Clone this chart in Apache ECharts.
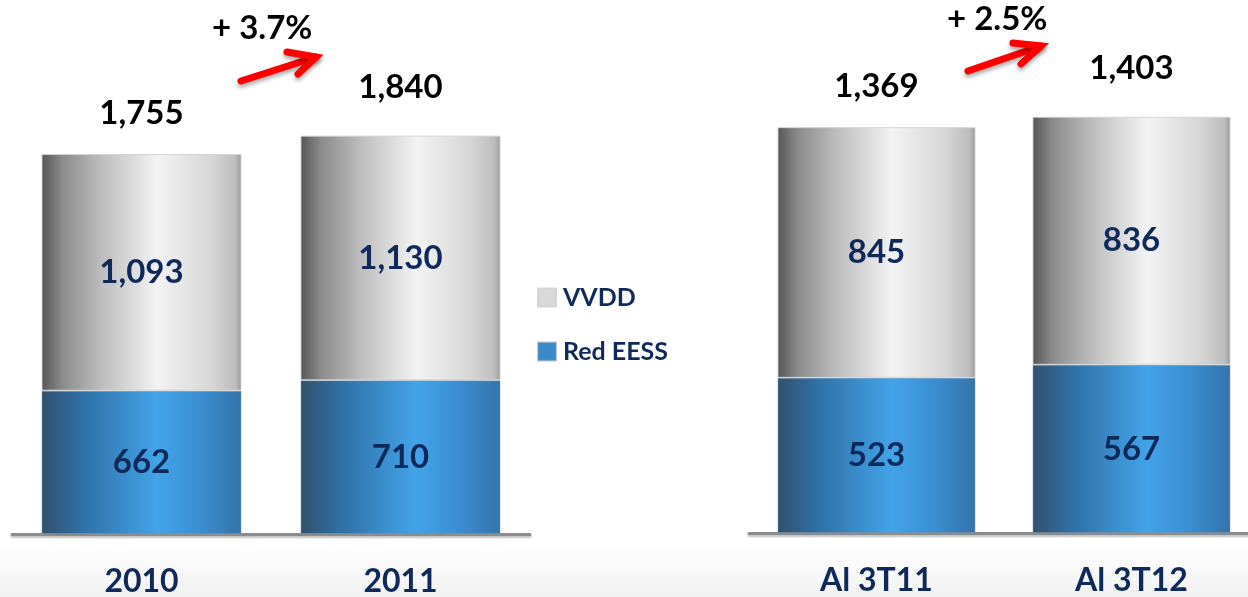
<!DOCTYPE html>
<html>
<head>
<meta charset="utf-8">
<script src="https://cdn.jsdelivr.net/npm/echarts@6/dist/echarts.min.js"></script>
<style>
  html, body { margin: 0; padding: 0; background: #fff; }
  #chart { width: 1248px; height: 597px; }
</style>
</head>
<body>
<div id="chart"></div>
<script>
// data
const yearCats = ['2010', '2011']
const yearRed = [662, 710]
const yearVvdd = [1093, 1130]
const yearTotals = ['1,755', '1,840']

const quarterCats = ['Al 3T11', 'Al 3T12']
const quarterRed = [523, 567]
const quarterVvdd = [845, 836]
const quarterTotals = ['1,369', '1,403']

const growthLabels = ['+ 3.7%', '+ 2.5%']

const navy = '#0f2a5a'
const font = 'Lato'

const grayFill = new echarts.graphic.LinearGradient(0, 0, 1, 0, [
  { offset: 0, color: '#555555' },
  { offset: 0.1, color: '#8a8a8a' },
  { offset: 0.3, color: '#bdbdbd' },
  { offset: 0.58, color: '#f3f3f3' },
  { offset: 0.85, color: '#d6d6d6' },
  { offset: 0.97, color: '#bcbcbc' },
  { offset: 1, color: '#9a9a9a' }
])
const blueFill = new echarts.graphic.LinearGradient(0, 0, 1, 0, [
  { offset: 0, color: '#34506c' },
  { offset: 0.2, color: '#2f70a6' },
  { offset: 0.58, color: '#43a3e8' },
  { offset: 0.8, color: '#3a8dd0' },
  { offset: 1, color: '#3474aa' }
])

const inLabel = {
  show: true,
  position: 'inside',
  color: navy,
  fontFamily: font,
  fontWeight: 'bold',
  fontSize: 33,
  formatter: p => p.value.toLocaleString('en-US')
}

function totalData(totals) {
  // the second bar's total sits a bit higher in the source
  return totals.map((t, i) => ({ value: 0, label: { distance: i === 0 ? 24 : 32 } }))
}

function panelSeries(idx, red, vvdd, totals, width) {
  return [
    {
      name: 'Red EESS', type: 'bar', stack: 's' + idx,
      xAxisIndex: idx, yAxisIndex: idx,
      barWidth: width, data: red,
      itemStyle: { color: blueFill, borderColor: 'rgba(120,150,180,0.5)', borderWidth: 1 },
      label: inLabel
    },
    {
      name: 'VVDD', type: 'bar', stack: 's' + idx,
      xAxisIndex: idx, yAxisIndex: idx,
      barWidth: width, data: vvdd,
      itemStyle: { color: grayFill, borderColor: 'rgba(210,210,210,0.9)', borderWidth: 1 },
      label: inLabel
    },
    {
      name: 'Total', type: 'bar', stack: 's' + idx,
      xAxisIndex: idx, yAxisIndex: idx,
      barWidth: width, data: totalData(totals),
      itemStyle: { color: 'transparent' },
      label: {
        show: true, position: 'top', color: '#000',
        fontFamily: font, fontWeight: 'bold', fontSize: 33,
        formatter: p => totals[p.dataIndex]
      },
      silent: true
    }
  ]
}

const axisLine = {
  show: true,
  lineStyle: {
    color: '#8c8c8c', width: 3,
    shadowColor: 'rgba(0,0,0,0.25)', shadowBlur: 2, shadowOffsetY: 2
  }
}
const axisLabel = {
  color: navy, fontFamily: font, fontWeight: 'bold', fontSize: 32, margin: 32
}

const chart = echarts.init(document.getElementById('chart'))
chart.setOption({
  backgroundColor: '#fff',
  animation: false,
  grid: [
    { left: 12, right: 718, top: 101, bottom: 63, outerBoundsMode: 'none' },
    { left: 749, right: -11, top: 88, bottom: 64, outerBoundsMode: 'none' }
  ],
  xAxis: [
    { type: 'category', gridIndex: 0, data: yearCats, axisLine, axisTick: { show: false }, axisLabel },
    { type: 'category', gridIndex: 1, data: quarterCats, axisLine, axisTick: { show: false }, axisLabel }
  ],
  yAxis: [
    { type: 'value', gridIndex: 0, min: 0, max: 2000, show: false },
    { type: 'value', gridIndex: 1, min: 0, max: 1500, show: false }
  ],
  legend: {
    orient: 'vertical',
    left: 532, top: 280,
    icon: 'rect',
    itemWidth: 18, itemHeight: 18, itemGap: 29,
    textStyle: { color: navy, fontFamily: font, fontWeight: 'bold', fontSize: 25, lineHeight: 18, padding: [0, 0, 0, 2] },
    data: [
      { name: 'VVDD', itemStyle: { color: '#d9d9d9' } },
      { name: 'Red EESS', itemStyle: { color: '#3a89c9' } }
    ]
  },
  graphic: [
    {
      type: 'rect', silent: true, z: -10,
      shape: { x: 0, y: 545, width: 1248, height: 52 },
      style: {
        fill: new echarts.graphic.LinearGradient(0, 0, 0, 1, [
          { offset: 0, color: '#ffffff' },
          { offset: 1, color: '#f1f1f1' }
        ])
      }
    },
    {
      type: 'text', left: 212, top: 12,
      style: { text: growthLabels[0], fill: '#000', font: 'bold 33px Lato' }
    },
    {
      type: 'text', left: 947, top: 3,
      style: { text: growthLabels[1], fill: '#000', font: 'bold 33px Lato' }
    },
    {
      type: 'polyline', silent: true,
      shape: { points: [[241, 81], [316, 57]] },
      style: { stroke: '#ff0000', lineWidth: 7, lineCap: 'round', shadowColor: 'rgba(0,0,0,0.35)', shadowBlur: 4, shadowOffsetY: 3 }
    },
    {
      type: 'polyline', silent: true,
      shape: { points: [[287, 52], [316, 57], [298, 74]] },
      style: { stroke: '#ff0000', lineWidth: 7, lineCap: 'round', lineJoin: 'miter', fill: null, shadowColor: 'rgba(0,0,0,0.35)', shadowBlur: 4, shadowOffsetY: 3 }
    },
    {
      type: 'polyline', silent: true,
      shape: { points: [[968, 71], [1041, 46]] },
      style: { stroke: '#ff0000', lineWidth: 7, lineCap: 'round', shadowColor: 'rgba(0,0,0,0.35)', shadowBlur: 4, shadowOffsetY: 3 }
    },
    {
      type: 'polyline', silent: true,
      shape: { points: [[1013, 43], [1041, 46], [1021, 64]] },
      style: { stroke: '#ff0000', lineWidth: 7, lineCap: 'round', lineJoin: 'miter', fill: null, shadowColor: 'rgba(0,0,0,0.35)', shadowBlur: 4, shadowOffsetY: 3 }
    }
  ],
  series: [
    ...panelSeries(0, yearRed, yearVvdd, yearTotals, 200),
    ...panelSeries(1, quarterRed, quarterVvdd, quarterTotals, 198)
  ]
})
</script>
</body>
</html>
